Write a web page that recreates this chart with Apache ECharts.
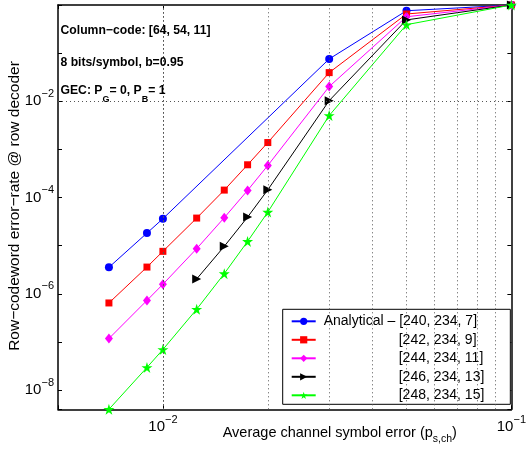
<!DOCTYPE html>
<html>
<head>
<meta charset="utf-8">
<script src="https://cdn.jsdelivr.net/npm/echarts@6/dist/echarts.min.js"></script>
<style>
html,body{margin:0;padding:0;background:#fff;}
#chart{width:529px;height:452px;}
</style>
</head>
<body>
<div id="chart"></div>
<script>
// ---- data ----
const seriesNames = ['Analytical – [240, 234, 7]', '[242, 234, 9]', '[244, 234, 11]', '[246, 234, 13]', '[248, 234, 15]'];
const xBlue = [0.007, 0.009, 0.01, 0.03, 0.05, 0.1];
const yBlue = [3.56e-6, 1.83e-5, 3.64e-5, 0.0757, 0.76, 1];
const xFull = [0.007, 0.009, 0.01, 0.0125, 0.015, 0.0175, 0.02, 0.03, 0.05, 0.1];
const yRed = [6.47e-7, 3.6e-6, 7.64e-6, 3.75e-5, 1.43e-4, 4.8e-4, 1.39e-3, 0.0394, 0.65, 1];
const yMagenta = [1.18e-7, 7.3e-7, 1.58e-6, 8.7e-6, 3.82e-5, 1.41e-4, 4.64e-4, 0.0202, 0.57, 1];
const xBlack = [0.0125, 0.015, 0.0175, 0.02, 0.03, 0.05, 0.1];
const yBlack = [2.04e-6, 9.7e-6, 3.93e-5, 1.45e-4, 0.0103, 0.49, 1];
const yGreen = [4e-9, 2.96e-8, 6.98e-8, 4.79e-7, 2.63e-6, 1.23e-5, 4.99e-5, 5.05e-3, 0.39, 1];

const xMin = 0.005, xMax = 0.1;
const yMin = 4e-9, yMax = 1;
const xLabelExps = [-2, -1];
const yLabelExps = [-8, -6, -4, -2];
const xGridValues = [0.006, 0.007, 0.008, 0.009, 0.01, 0.02, 0.03, 0.04, 0.05, 0.06, 0.07, 0.08, 0.09];
const yGridValues = [1e-8, 1e-6, 1e-4, 1e-2];

const annotation1 = 'Column−code: [64, 54, 11]';
const annotation2 = '8 bits/symbol, b=0.95';
const xAxisName = 'Average channel symbol error (p';
const xAxisNameSub = 's,ch';
const yAxisName = 'Row−codeword error−rate @ row decoder';

// ---- chart ----
const FONT = "'Liberation Sans', Arial, Helvetica, sans-serif";
const zip = (xs, ys) => xs.map((x, i) => [x, ys[i]]);
const star = 'path://M0,-10 L2.245,-3.09 L9.511,-3.09 L3.633,1.18 L5.878,8.09 L0,3.82 L-5.878,8.09 L-3.633,1.18 L-9.511,-3.09 L-2.245,-3.09 Z';

function powLabel(exps) {
  return function (v) {
    const e = Math.log10(v);
    const r = Math.round(e);
    if (Math.abs(e - r) > 1e-6 || exps.indexOf(r) < 0) return '';
    return '{b|10}{s|−' + (-r) + '}';
  };
}
const labelRich = {
  b: { fontSize: 15, fontFamily: FONT, color: '#000', lineHeight: 26, verticalAlign: 'middle' },
  s: { fontSize: 11, fontFamily: FONT, color: '#000', lineHeight: 11, verticalAlign: 'top' }
};

const grid = { left: 58, top: 5, width: 458.5, height: 404.3, show: false };

function mk(name, data, color, symbol, size, rot) {
  return {
    name: name, type: 'line', data: data, z: 3,
    xAxisIndex: 0, yAxisIndex: 0,
    symbol: symbol, symbolSize: size, symbolRotate: rot || 0,
    showSymbol: true, clip: false,
    lineStyle: { color: color, width: 1 },
    itemStyle: { color: color, borderColor: color, borderWidth: 0 },
    emphasis: { disabled: true }
  };
}

const gridStyle = { type: [1, 3], color: '#555', width: 1 };

const option = {
  animation: false,
  backgroundColor: '#fff',
  grid: grid,
  xAxis: [
    { type: 'log', logBase: 10, min: xMin, max: xMax, position: 'bottom',
      axisLine: { show: true, onZero: false, lineStyle: { color: '#000', width: 1.5 } },
      axisTick: { show: true, inside: true, length: 4, lineStyle: { color: '#000' } },
      axisLabel: { formatter: powLabel(xLabelExps), rich: labelRich, margin: 5, showMinLabel: true, showMaxLabel: true },
      splitLine: { show: false }, minorTick: { show: false } },
    { type: 'log', logBase: 10, min: xMin, max: xMax, position: 'top',
      axisLine: { show: true, onZero: false, lineStyle: { color: '#000', width: 1.5 } },
      axisTick: { show: true, inside: true, length: 4, lineStyle: { color: '#000' } },
      axisLabel: { show: false }, splitLine: { show: false } }
  ],
  yAxis: [
    { type: 'log', logBase: 10, min: yMin, max: yMax, position: 'left',
      axisLine: { show: true, onZero: false, lineStyle: { color: '#000', width: 1.5 } },
      axisTick: { show: true, inside: true, length: 4, lineStyle: { color: '#000' } },
      axisLabel: { formatter: powLabel(yLabelExps), rich: labelRich, margin: 4 },
      splitLine: { show: false } },
    { type: 'log', logBase: 10, min: yMin, max: yMax, position: 'right',
      axisLine: { show: true, onZero: false, lineStyle: { color: '#000', width: 1.5 } },
      axisTick: { show: true, inside: true, length: 4, lineStyle: { color: '#000' } },
      axisLabel: { show: false }, splitLine: { show: false } }
  ],
  legend: {
    data: seriesNames,
    orient: 'vertical',
    left: 282.7, top: 309.3,
    padding: [5, 26, 2, 8],
    itemGap: 4.5,
    itemWidth: 24, itemHeight: 9,
    backgroundColor: '#fff',
    borderColor: '#000', borderWidth: 1, borderRadius: 0,
    selectedMode: false,
    textStyle: {
      fontSize: 14, fontFamily: FONT, color: '#000', padding: [0, 0, 0, 3],
      rich: {
        a: { fontSize: 14, fontFamily: FONT, color: '#000', lineHeight: 14 },
        p: { width: 75, lineHeight: 14 }
      }
    },
    formatter: function (name) {
      return name === seriesNames[0] ? '{a|' + name + '}' : '{p|}{a|' + name + '}';
    }
  },
  series: [
    { name: '__grid', type: 'line', data: [], z: 1, silent: true,
      xAxisIndex: 0, yAxisIndex: 0,
      markLine: { silent: true, symbol: ['none', 'none'], label: { show: false }, animation: false,
        lineStyle: gridStyle, emphasis: { disabled: true },
        data: xGridValues.map(v => ({ xAxis: v })).concat(yGridValues.map(v => ({ yAxis: v }))) } },
    mk(seriesNames[0], zip(xBlue, yBlue), '#0000ff', 'circle', 8),
    mk(seriesNames[1], zip(xFull, yRed), '#ff0000', 'rect', 7),
    mk(seriesNames[2], zip(xFull, yMagenta), '#ff00ff', 'diamond', [8, 10]),
    mk(seriesNames[3], zip(xBlack, yBlack), '#000000', 'triangle', [9, 9], -90),
    mk(seriesNames[4], zip(xFull, yGreen), '#00ff00', star, [11, 11])
  ],
  graphic: [
    { type: 'text', x: 60.5, y: 31, z: 10,
      style: { text: annotation1, font: 'bold 12.2px ' + FONT, fill: '#000', align: 'left', verticalAlign: 'middle' } },
    { type: 'text', x: 60.5, y: 62.3, z: 10,
      style: { text: annotation2, font: 'bold 12.2px ' + FONT, fill: '#000', align: 'left', verticalAlign: 'middle' } },
    { type: 'text', x: 60.5, y: 90.7, z: 10,
      style: { text: '{n|GEC: P}{sub|G}{n|= 0, P}{sub|B}{n|= 1}', align: 'left', verticalAlign: 'middle',
        rich: {
          n: { font: 'bold 12.2px ' + FONT, fill: '#000', lineHeight: 26, verticalAlign: 'middle' },
          sub: { font: 'bold 9px ' + FONT, fill: '#000', lineHeight: 10, verticalAlign: 'bottom' }
        } } },
    { type: 'text', x: 222.7, y: 433, z: 10,
      style: { text: '{n|' + xAxisName + '}{sub|' + xAxisNameSub + '}{n|)}', align: 'left', verticalAlign: 'middle',
        rich: {
          n: { font: '14.5px ' + FONT, fill: '#000', lineHeight: 24, verticalAlign: 'middle' },
          sub: { font: '10.5px ' + FONT, fill: '#000', lineHeight: 11, verticalAlign: 'bottom' }
        } } },
    { type: 'text', x: 15, y: 206, rotation: Math.PI / 2, z: 10,
      style: { text: yAxisName, font: '15.5px ' + FONT, fill: '#000', align: 'center', verticalAlign: 'middle' } }
  ]
};

const chart = echarts.init(document.getElementById('chart'), null, { renderer: 'canvas' });
chart.setOption(option);
</script>
</body>
</html>
